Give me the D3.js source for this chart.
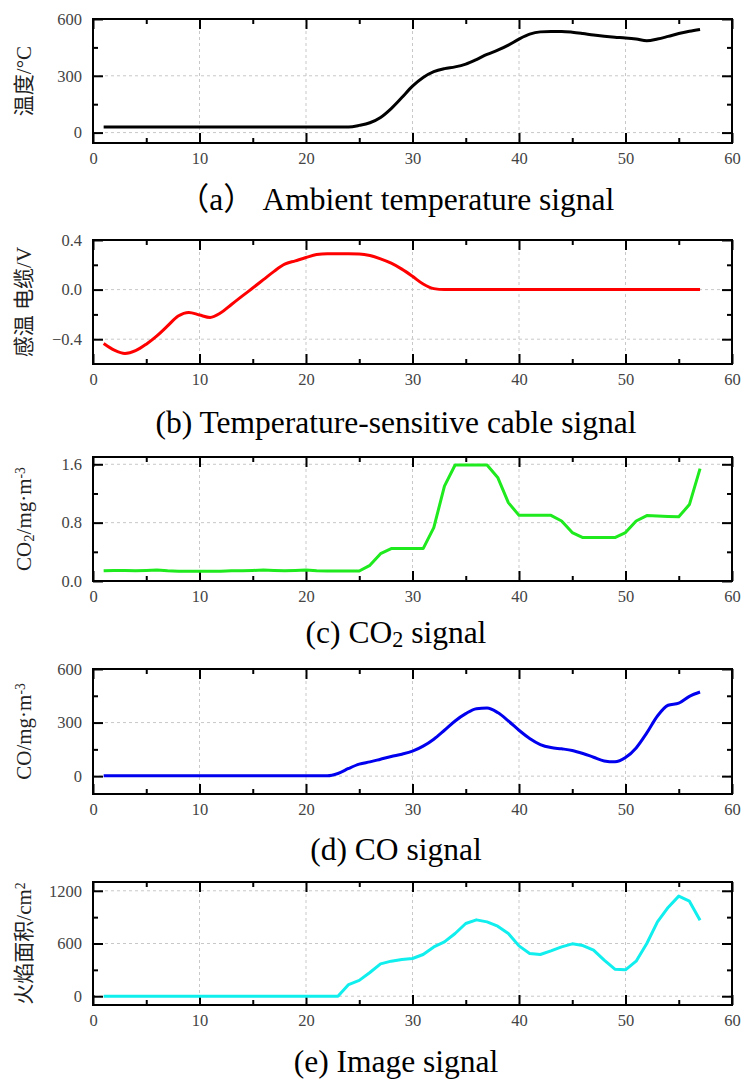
<!DOCTYPE html>
<html>
<head>
<meta charset="utf-8">
<script src="https://cdn.jsdelivr.net/npm/d3@7"></script>
<style>
  body { margin: 0; background: #fff; }
  .tick text { font-family: "Liberation Serif", "Times New Roman", serif; font-size: 16.5px; fill: #444; }
  .grid { stroke: #c8c8c8; stroke-width: 1; stroke-dasharray: 3,3; }
  .title { font-family: "Liberation Serif", "Noto Sans CJK SC", serif; font-size: 31.5px; fill: #000; }
  .ylab { font-family: "Liberation Serif", "Noto Sans CJK SC", serif; font-size: 21px; fill: #222; }
</style>
</head>
<body>
<script>
// time index (s)
const time = [1,2,3,4,5,6,7,8,9,10,11,12,13,14,15,16,17,18,19,20,21,22,23,24,25,26,27,28,29,30,
  31,32,33,34,35,36,37,38,39,40,41,42,43,44,45,46,47,48,49,50,51,52,53,54,55,56,57];

const temperature = [30,30,30,30,30,30,30,30,30,30,30,30,30,30,30,30,30,30,30,30,30,30,30,30,
  38,52,80,127,185,245,291,322,338,347,362,386,413,435,462,494,520,532,534,534,530,523,515,509,
  504,500,494,485,494,508,523,535,545];

const cableVoltage = [-0.434,-0.488,-0.515,-0.493,-0.44,-0.373,-0.293,-0.213,-0.184,-0.205,-0.224,
  -0.187,-0.12,-0.053,0.013,0.08,0.147,0.205,0.232,0.259,0.283,0.29,0.29,0.29,0.288,0.275,0.248,
  0.213,0.165,0.107,0.045,0.008,0,0,0,0,0,0,0,0,0,0,0,0,0,0,0,0,0,0,0,0,0,0,0,0,0];

const co2 = [0.14,0.145,0.145,0.14,0.145,0.15,0.14,0.135,0.135,0.135,0.135,0.135,0.14,0.14,0.145,
  0.15,0.145,0.14,0.145,0.15,0.14,0.137,0.137,0.137,0.137,0.215,0.375,0.444,0.444,0.444,0.444,
  0.732,1.30,1.59,1.59,1.59,1.59,1.42,1.075,0.90,0.90,0.90,0.90,0.823,0.664,0.595,0.595,0.595,
  0.595,0.664,0.823,0.897,0.89,0.885,0.88,1.048,1.54];

const co = [2,2,2,2,2,2,2,2,2,2,2,2,2,2,2,2,2,2,2,2,2,2,15,43,67,80,95,110,123,140,168,207,257,
  309,350,378,382,356,309,257,211,177,160,153,144,127,106,85,80,104,158,242,337,397,409,447,471];

const flameArea = [0,0,0,0,0,0,0,0,0,0,0,0,0,0,0,0,0,0,0,0,0,0,0,133,180,270,368,399,418,429,
  475,561,618,714,828,869,846,797,714,573,486,475,516,561,596,577,524,410,308,300,399,600,846,
  1010,1139,1082,865];

const xTicks = [0,10,20,30,40,50,60];
const xMinor = [5,15,25,35,45,55];
const xGrid = [10,20,30,40,50];

const width = 741;
const height = 1079;
const left = 93;
const right = 732;

const svg = d3.select("body").append("svg")
  .attr("width", width)
  .attr("height", height);

const x = d3.scaleLinear().domain([0, 60]).range([left, right]);

const panels = [
  { values: temperature, top: 19, bottom: 143, domain: [-55, 600], major: [0,300,600], minor: [150,450],
    fmt: d3.format("d"), color: "#000", curve: d3.curveMonotoneX, ylab: [["温度/°C"]],
    title: [["（a） Ambient temperature signal"]], titleY: 210 },
  { values: cableVoltage, top: 240, bottom: 364, domain: [-0.6, 0.4], major: [-0.4,0,0.4], minor: [-0.2,0.2],
    fmt: d3.format(".1f"), color: "#f00", curve: d3.curveMonotoneX, ylab: [["感温 电缆/V"]],
    title: [["(b) Temperature-sensitive cable signal"]], titleY: 433 },
  { values: co2, top: 457, bottom: 581, domain: [0, 1.7], major: [0,0.8,1.6], minor: [0.4,1.2],
    fmt: d3.format(".1f"), color: "#1eea1e", curve: d3.curveLinear,
    ylab: [["CO"], ["2", "sub"], ["/mg·m"], ["-3", "sup"]],
    title: [["(c) CO"], ["2", "sub"], [" signal"]], titleY: 643 },
  { values: co, top: 669, bottom: 794, domain: [-100, 600], major: [0,300,600], minor: [150,450],
    fmt: d3.format("d"), color: "#0000ee", curve: d3.curveMonotoneX,
    ylab: [["CO/mg·m"], ["-3", "sup"]],
    title: [["(d) CO signal"]], titleY: 860 },
  { values: flameArea, top: 882, bottom: 1005, domain: [-100, 1300], major: [0,600,1200], minor: [300,900],
    fmt: d3.format("d"), color: "#10eeee", curve: d3.curveLinear,
    ylab: [["火焰面积/cm"], ["2", "sup"]],
    title: [["(e) Image signal"]], titleY: 1072 }
];

function addRuns(text, runs, size) {
  runs.forEach(r => {
    const t = text.append("tspan").text(r[0]);
    if (r[1] === "sub") t.attr("font-size", size * 0.7).attr("baseline-shift", "-20%");
    if (r[1] === "sup") t.attr("font-size", size * 0.65).attr("baseline-shift", "45%");
  });
}

function clean(g) {
  g.attr("font-family", "Liberation Serif").attr("font-size", 16.5);
  g.select(".domain").remove();
  g.selectAll(".tick line").attr("stroke", "#000").attr("stroke-width", 2);
}

panels.forEach(p => {
  const y = d3.scaleLinear().domain(p.domain).range([p.bottom, p.top]);
  const g = svg.append("g");

  // dashed grid
  g.selectAll(".gx").data(xGrid).join("line")
    .attr("class", "grid")
    .attr("x1", d => x(d)).attr("x2", d => x(d))
    .attr("y1", p.top).attr("y2", p.bottom);
  g.selectAll(".gy").data(p.major.filter(v => y(v) > p.top + 1)).join("line")
    .attr("class", "grid")
    .attr("x1", left).attr("x2", right)
    .attr("y1", d => y(d)).attr("y2", d => y(d));

  // axes, ticks pointing inward
  g.append("g").attr("transform", `translate(0,${p.bottom})`)
    .call(d3.axisBottom(x).tickValues(xTicks).tickSize(-10).tickPadding(9).tickFormat(d3.format("d")))
    .call(clean);
  g.append("g").attr("transform", `translate(0,${p.bottom})`)
    .call(d3.axisBottom(x).tickValues(xMinor).tickSize(-5).tickFormat(""))
    .call(clean);
  g.append("g").attr("transform", `translate(0,${p.top})`)
    .call(d3.axisTop(x).tickValues(xTicks).tickSize(-10).tickFormat(""))
    .call(clean);
  g.append("g").attr("transform", `translate(0,${p.top})`)
    .call(d3.axisTop(x).tickValues(xMinor).tickSize(-5).tickFormat(""))
    .call(clean);
  g.append("g").attr("transform", `translate(${left},0)`)
    .call(d3.axisLeft(y).tickValues(p.major).tickSize(-10).tickPadding(11).tickFormat(p.fmt))
    .call(clean);
  g.append("g").attr("transform", `translate(${left},0)`)
    .call(d3.axisLeft(y).tickValues(p.minor).tickSize(-5).tickFormat(""))
    .call(clean);
  g.append("g").attr("transform", `translate(${right},0)`)
    .call(d3.axisRight(y).tickValues(p.major).tickSize(-10).tickFormat(""))
    .call(clean);
  g.append("g").attr("transform", `translate(${right},0)`)
    .call(d3.axisRight(y).tickValues(p.minor).tickSize(-5).tickFormat(""))
    .call(clean);

  g.append("rect")
    .attr("x", left).attr("y", p.top)
    .attr("width", right - left).attr("height", p.bottom - p.top)
    .attr("fill", "none").attr("stroke", "#000").attr("stroke-width", 2);

  const line = d3.line()
    .x((d, i) => x(time[i]))
    .y(d => y(d))
    .curve(p.curve);

  g.append("path")
    .datum(p.values)
    .attr("d", line)
    .attr("fill", "none")
    .attr("stroke", p.color)
    .attr("stroke-width", 3)
    .attr("stroke-linejoin", "round");

  const yl = g.append("text")
    .attr("class", "ylab")
    .attr("text-anchor", "middle")
    .attr("transform", `translate(31,${(p.top + p.bottom) / 2}) rotate(-90)`);
  addRuns(yl, p.ylab, 21);

  const tt = svg.append("text")
    .attr("class", "title")
    .attr("x", 396)
    .attr("y", p.titleY)
    .attr("text-anchor", "middle");
  addRuns(tt, p.title, 31.5);
});
</script>
</body>
</html>
